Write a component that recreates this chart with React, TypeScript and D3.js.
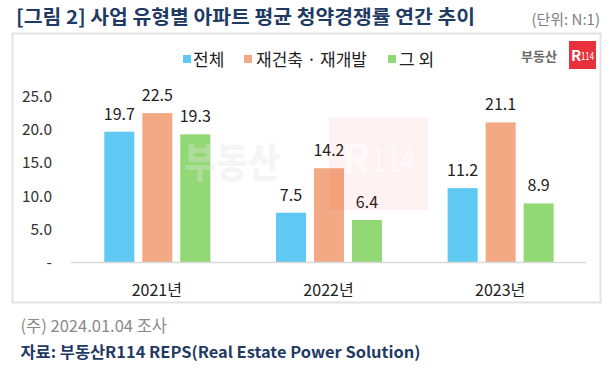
import React from 'react';
import * as d3 from 'd3';

const years = ['2021년', '2022년', '2023년'];
const seriesNames = ['전체', '재건축 · 재개발', '그 외'];
const seriesColors = ['#60C9F3', '#F3AA84', '#92D874'];
const totalValues = [19.7, 7.5, 11.2];
const rebuildValues = [22.5, 14.2, 21.1];
const otherValues = [19.3, 6.4, 8.9];
const yTicks = [0, 5, 10, 15, 20, 25];

const FONT = "'Noto Sans CJK KR', 'Noto Sans', sans-serif";

const App = () => {
  const width = 616;
  const height = 373;

  const series = [totalValues, rebuildValues, otherValues];

  const x = d3.scaleBand<string>().domain(years).range([71, 586]).padding(0);
  const inner = d3
    .scaleBand<number>()
    .domain([0, 1, 2])
    .range([33.3, 139.3])
    .paddingInner(0.21)
    .paddingOuter(0);
  const y = d3.scaleLinear().domain([0, 25]).range([262.5, 96.5]);

  // legend layout
  const legendItems = [
    { x: 183, textX: 193 },
    { x: 244, textX: 256 },
    { x: 388, textX: 399 },
  ];

  return (
    <svg
      width={width}
      height={height}
      style={{ position: 'absolute', left: 0, top: 0, background: '#fff' }}
      fontFamily={FONT}
    >
      {/* title */}
      <text x={16} y={24} fontSize={19} fontWeight={700} fill="#1F3A63" textLength={459} lengthAdjust="spacingAndGlyphs">
        [그림 2] 사업 유형별 아파트 평균 청약경쟁률 연간 추이
      </text>
      <text x={600} y={25} fontSize={15} fill="#808080" textAnchor="end">
        (단위: N:1)
      </text>

      {/* card */}
      <rect x={12.5} y={33.5} width={588} height={269} fill="#fff" stroke="#E3E3E3" strokeWidth={2} />

      {/* logo */}
      <text x={557} y={60.5} fontSize={13} fontWeight={700} fill="#6a6a6a" textAnchor="end">
        부동산
      </text>
      <rect x={569} y={41} width={27} height={28} fill="#E8313B" />
      <text x={571} y={61} fontSize={15} fontWeight={700} fill="#fff">R</text>
      <text x={581} y={60} fontSize={11} fontWeight={400} fill="#fff" textLength={13} lengthAdjust="spacingAndGlyphs">114</text>

      {/* legend */}
      {seriesNames.map((name, i) => (
        <g key={name}>
          <rect x={legendItems[i].x} y={55} width={8} height={8} fill={seriesColors[i]} />
          <text x={legendItems[i].textX} y={65.5} fontSize={17} fill="#222">
            {name}
          </text>
        </g>
      ))}

      {/* y axis labels */}
      {yTicks.map(t => (
        <text
          key={t}
          x={52}
          y={y(t) + 5.5}
          fontSize={15.5}
          fill="#333"
          textAnchor="end"
        >
          {t === 0 ? '-' : t.toFixed(1)}
        </text>
      ))}

      {/* bars */}
      {years.map((yr, gi) => (
        <g key={yr} transform={`translate(${x(yr)},0)`}>
          {series.map((vals, si) => (
            <g key={si}>
              <rect
                x={inner(si)}
                y={y(vals[gi])}
                width={inner.bandwidth()}
                height={y(0) - y(vals[gi])}
                fill={seriesColors[si]}
              />
              <text
                x={(inner(si) as number) + inner.bandwidth() / 2}
                y={y(vals[gi]) - 12}
                fontSize={16}
                fill="#222"
                textAnchor="middle"
              >
                {vals[gi].toFixed(1)}
              </text>
            </g>
          ))}
          <text
            x={x.bandwidth() / 2}
            y={296}
            fontSize={16}
            fill="#222"
            textAnchor="middle"
          >
            {yr}
          </text>
        </g>
      ))}

      {/* baseline */}
      <line x1={71} x2={586} y1={y(0)} y2={y(0)} stroke="#D9D9D9" strokeWidth={1.5} />

      {/* watermark on top */}
      <g pointerEvents="none">
        <text x={184} y={177} fontSize={40} fontWeight={900} fill="#e4e4e4" opacity={0.35} textLength={96} lengthAdjust="spacingAndGlyphs">
          부동산
        </text>
        <rect x={329} y={117} width={99} height={93} fill="#FF1010" opacity={0.055} />
        <text x={342} y={174} fontSize={42} fontWeight={700} fill="#fff" opacity={0.55}>R</text>
        <text x={371} y={172} fontSize={34} fontWeight={400} fill="#fff" opacity={0.55} textLength={44} lengthAdjust="spacingAndGlyphs">114</text>
      </g>

      {/* footnotes */}
      <text x={20.5} y={332} fontSize={16.5} fill="#8a8a8a">
        (주) 2024.01.04 조사
      </text>
      <text x={20.5} y={358} fontSize={15.5} fontWeight={700} fill="#1F3A63" textLength={400} lengthAdjust="spacingAndGlyphs">
        자료: 부동산R114 REPS(Real Estate Power Solution)
      </text>
    </svg>
  );
};

export default App;
